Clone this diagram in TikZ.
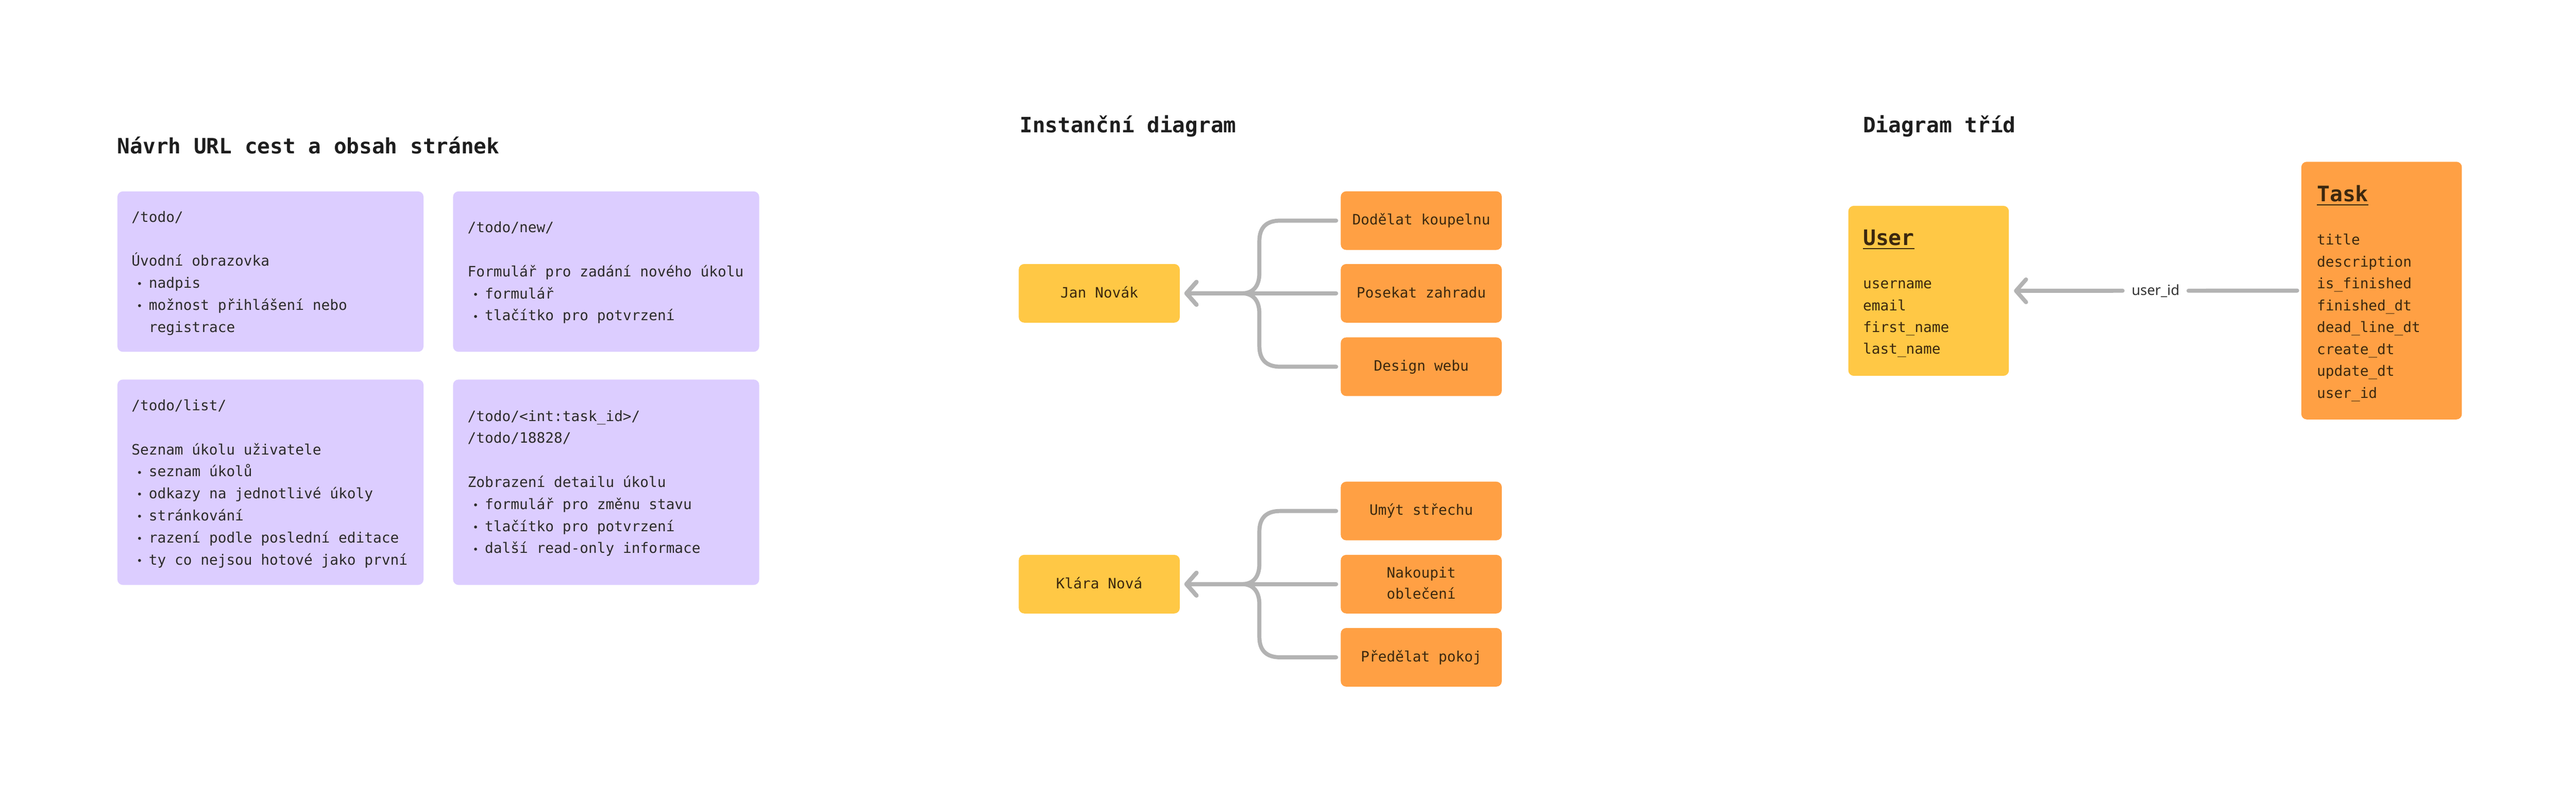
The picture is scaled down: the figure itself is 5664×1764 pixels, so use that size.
\documentclass[tikz,border=0pt]{standalone}
\usepackage{fontspec}
\setmainfont{DejaVu Sans Mono}
\newfontfamily\lblfont{Noto Sans}
\usetikzlibrary{arrows.meta,calc}
\definecolor{purp}{HTML}{DCCDFF}
\definecolor{yel}{HTML}{FFC845}
\definecolor{ora}{HTML}{FFA044}
\definecolor{conncol}{HTML}{B3B3B3}
\definecolor{ink}{HTML}{1E1E1E}
\definecolor{pink}{HTML}{2B2B2B}
\definecolor{oink}{HTML}{3C280F}
\definecolor{lblink}{HTML}{333333}
\newcommand{\bl}{\makebox[38pt][l]{\hspace{11pt}{\fontsize{22}{22}\selectfont\raisebox{1pt}{•}}}}
\newcommand{\hang}{\hspace*{38pt}}
\tikzset{
  title/.style={font=\bfseries\fontsize{46.5}{50}\selectfont, text=ink, inner sep=0pt, anchor=base west},
  pbox/.style={fill=purp, rounded corners=12pt, inner sep=0pt, anchor=north west},
  ptxt/.style={font=\fontsize{31.5}{48.5}\selectfont, text=pink, align=left, inner sep=0pt, anchor=west},
  card/.style={rounded corners=12pt, inner sep=0pt, minimum width=354pt, minimum height=129pt,
    font=\fontsize{31.5}{47}\selectfont, text=oink, align=center},
  ycard/.style={card, fill=yel},
  ocard/.style={card, fill=ora},
  cls/.style={rounded corners=12pt, inner sep=0pt, minimum width=353pt},
  head/.style={font=\bfseries\fontsize{47}{50}\selectfont, text=oink, inner sep=0pt, anchor=base west},
  ftxt/.style={font=\fontsize{31.5}{48.1}\selectfont, text=oink, align=left, inner sep=0pt, anchor=west},
  conn/.style={draw=conncol, line width=9pt, line cap=round, line join=round},
  arr/.style={-{Straight Barb[length=22pt,width=50pt,round]}},
  lbl/.style={font=\lblfont\fontsize{31}{31}\selectfont, text=lblink, inner xsep=20pt, inner ysep=0pt, outer sep=0pt},
  uline/.style={draw=oink, line width=3pt}
}
\begin{document}
\begin{tikzpicture}[x=1pt,y=-1pt]
\fill[white] (0,0) rectangle (5664,1764);
\useasboundingbox (0,0) rectangle (5664,1764);

% ---------- Section 1 ----------
\node[title] (t-url) at (258,338) {Návrh URL cest a obsah stránek};

\node[pbox, minimum width=673pt, minimum height=353pt] (b1) at (258,421) {};
\node[pbox, minimum width=673pt, minimum height=353pt] (b2) at (996,421) {};
\node[pbox, minimum width=673pt, minimum height=452pt] (b3) at (258,835) {};
\node[pbox, minimum width=673pt, minimum height=452pt] (b4) at (996,835) {};

\node[ptxt] (b1t) at (289,600) {\strut/todo/\\\mbox{}\\Úvodní obrazovka\\\bl nadpis\\\bl možnost přihlášení nebo\\\hang registrace\strut};
\node[ptxt] (b2t) at (1028,599) {\strut/todo/new/\\\mbox{}\\Formulář pro zadání nového úkolu\\\bl formulář\\\bl tlačítko pro potvrzení\strut};
\node[ptxt] (b3t) at (289,1063.5) {\strut/todo/list/\\\mbox{}\\Seznam úkolu uživatele\\\bl seznam úkolů\\\bl odkazy na jednotlivé úkoly\\\bl stránkování\\\bl razení podle poslední editace\\\bl ty co nejsou hotové jako první\strut};
\node[ptxt] (b4t) at (1028,1062.5) {\strut/todo/<int:task\_id>/\\/todo/18828/\\\mbox{}\\Zobrazení detailu úkolu\\\bl formulář pro změnu stavu\\\bl tlačítko pro potvrzení\\\bl další read-only informace\strut};

% ---------- Section 2 ----------
\node[title] (t-inst) at (2242,292) {Instanční diagram};

\node[ycard] (jan) at (2417,645.5) {\strut Jan Novák};
\node[ocard] (j1) at (3125,485.5) {\strut Dodělat koupelnu};
\node[ocard] (j2) at (3125,645.5) {\strut Posekat zahradu};
\node[ocard] (j3) at (3125,807) {\strut Design webu};

\node[ycard] (kla) at (2417,1285.5) {\strut Klára Nová};
\node[ocard] (k1) at (3125,1124.5) {\strut Umýt střechu};
\node[ocard] (k2) at (3125,1285.5) {\strut Nakoupit\\oblečení\strut};
\node[ocard] (k3) at (3125,1446.5) {\strut Předělat pokoj};

\coordinate (jj) at (2731,645.5);
\coordinate (kj) at (2731,1285.5);

\draw[conn, arr] ([xshift=-10pt]j1.west) -- (2815,485.5) .. controls (2785,485.5) and (2769,500) .. (2769,531) -- (2769,601) .. controls (2769,630) and (2755,645.5) .. (jj) -- ([xshift=10pt]jan.east);
\draw[conn, arr] ([xshift=-10pt]j2.west) -- ([xshift=10pt]jan.east);
\draw[conn, arr] ([xshift=-10pt]j3.west) -- (2815,807) .. controls (2785,807) and (2769,792) .. (2769,761) -- (2769,690) .. controls (2769,661) and (2755,645.5) .. (jj) -- ([xshift=10pt]jan.east);

\draw[conn, arr] ([xshift=-10pt]k1.west) -- (2815,1124.5) .. controls (2785,1124.5) and (2769,1139) .. (2769,1170) -- (2769,1241) .. controls (2769,1270) and (2755,1285.5) .. (kj) -- ([xshift=10pt]kla.east);
\draw[conn, arr] ([xshift=-10pt]k2.west) -- ([xshift=10pt]kla.east);
\draw[conn, arr] ([xshift=-10pt]k3.west) -- (2815,1446.5) .. controls (2785,1446.5) and (2769,1432) .. (2769,1401) -- (2769,1330) .. controls (2769,1301) and (2755,1285.5) .. (kj) -- ([xshift=10pt]kla.east);

% ---------- Section 3 ----------
\node[title] (t-cls) at (4096,292) {Diagram tříd};

\node[cls, fill=yel, minimum height=374pt] (user) at (4240.5,640) {};
\node[cls, fill=ora, minimum height=567pt] (task) at (5236.5,639.5) {};

\node[head] (uh) at (4096,540) {User};
\draw[uline] ([yshift=-7pt]uh.base west) -- ([yshift=-7pt]uh.base east);
\node[ftxt] (uf) at (4096,697.5) {\strut username\\email\\first\_name\\last\_name\strut};

\node[head] (th) at (5094,444) {Task};
\draw[uline] ([yshift=-7pt]th.base west) -- ([yshift=-7pt]th.base east);
\node[ftxt] (tf) at (5094,697.8) {\strut title\\description\\is\_finished\\finished\_dt\\dead\_line\_dt\\create\_dt\\update\_dt\\user\_id\strut};

\path ([xshift=-9pt]task.west) -- node[lbl] (uid) {user\_id} ([xshift=11pt]user.east);
\draw[conn] ([xshift=-9pt]task.west) -- (uid.east);
\draw[conn, arr] (uid.west) -- ([xshift=11pt]user.east);
\end{tikzpicture}
\end{document}
